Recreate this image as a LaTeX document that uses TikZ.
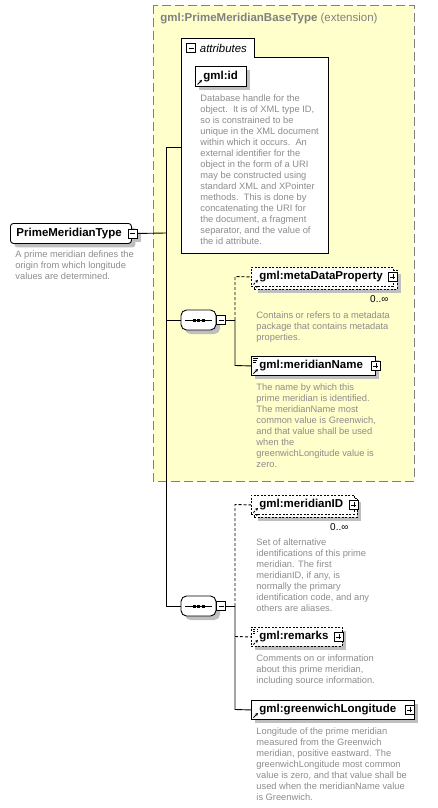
\documentclass[tikz,border=0pt]{standalone}
\usepackage{fontspec}
\setmainfont{Liberation Sans}
\usetikzlibrary{shadows,arrows.meta}
\definecolor{grpfill}{HTML}{FFFFCC}
\definecolor{grpline}{HTML}{808080}
\definecolor{desctext}{HTML}{8C8C8C}
\tikzset{shad/.style={drop shadow={shadow xshift=4pt,shadow yshift=-4pt,fill=black!25,opacity=1}},
  elem/.style={draw,fill=white,anchor=north west,inner xsep=8pt,inner ysep=0pt,minimum height=19pt,align=left,
    font=\bfseries\fontsize{11.5}{13}\selectfont,text height=8.5pt,text depth=2.5pt},
  refmark/.style={path picture={\draw[line width=0.9pt,-{Stealth[length=3pt,width=3pt]}] ([shift={(2pt,2pt)}]path picture bounding box.south west) -- ++(4.5pt,4.5pt);}},
  typedref/.style={path picture={\draw[line width=0.9pt,-{Stealth[length=3pt,width=3pt]}] ([shift={(2pt,2pt)}]path picture bounding box.south west) -- ++(4.5pt,4.5pt);
    \draw[line width=0.7pt] ([shift={(2pt,-2pt)}]path picture bounding box.north west) -- ++(5pt,0pt)
      ([shift={(2pt,-4pt)}]path picture bounding box.north west) -- ++(4pt,0pt)
      ([shift={(2pt,-6pt)}]path picture bounding box.north west) -- ++(3pt,0pt);}},
  optbox/.style={dash pattern=on 2pt off 1.5pt},
  optline/.style={dash pattern=on 3pt off 2pt},
  pmbox/.style={draw,fill=white,minimum size=9pt,inner sep=0pt,line width=0.8pt},
  minusbox/.style={pmbox,path picture={\draw ([xshift=2pt]path picture bounding box.west) -- ([xshift=-2pt]path picture bounding box.east);}},
  plusbox/.style={pmbox,path picture={\draw ([xshift=2pt]path picture bounding box.west) -- ([xshift=-2pt]path picture bounding box.east)
      ([yshift=2pt]path picture bounding box.south) -- ([yshift=-2pt]path picture bounding box.north);}},
  seqbox/.style={rectangle,rounded corners=5.5pt,draw,fill=white,minimum width=35pt,minimum height=20pt,inner sep=0pt,shad,
    path picture={\draw[sharp corners] ([xshift=4pt]path picture bounding box.west) -- ([xshift=-4pt]path picture bounding box.east);
      \fill[black,sharp corners] ([shift={(-6pt,-1.5pt)}]path picture bounding box.center) rectangle ++(3pt,3pt);
      \fill[black,sharp corners] ([shift={(-1.5pt,-1.5pt)}]path picture bounding box.center) rectangle ++(3pt,3pt);
      \fill[black,sharp corners] ([shift={(3pt,-1.5pt)}]path picture bounding box.center) rectangle ++(3pt,3pt);}},
  desc/.style={anchor=north west,inner sep=0pt,align=left,text=desctext,font=\fontsize{9.3}{11}\selectfont},
  occurs/.style={anchor=north east,inner sep=1pt,font=\fontsize{10}{11}\selectfont}}

\begin{document}
\begin{tikzpicture}[x=1pt,y=-1pt,line width=0.9pt]
    \useasboundingbox (0,0) rectangle (438,808);

    % base type group
    \draw[grpline,fill=grpfill,dash pattern=on 9pt off 4pt] (153,5) rectangle (414,481);
    \node[anchor=west,inner sep=0pt,text=grpline,font=\fontsize{11.5}{13}\selectfont] (base) at (160,19) {\textbf{gml:PrimeMeridianBaseType} (extension)};

    % attributes
    \draw[fill=white] (181,38) -- (254,38) -- (254,57) -- (328,57) -- (328,253) -- (181,253) -- cycle;
    \coordinate (attrw) at (181,147);
    \node[minusbox] (attrm) at (191,48) {};
    \node[anchor=west,inner sep=0pt,font=\itshape\fontsize{11.4}{12}\selectfont] (attrl) at (199.5,48) {attributes};
    \node[elem,refmark,shad,minimum height=20pt,text width=35pt] (id) at (195,66) {gml:id};
    \node[desc] (iddesc) at (200,94.5) {Database handle for the\\object.\ \ It is of XML type ID,\\so is constrained to be\\unique in the XML document\\within which it occurs.\ \ An\\external identifier for the\\object in the form of a URI\\may be constructed using\\standard XML and XPointer\\methods.\ \ This is done by\\concatenating the URI for\\the document, a fragment\\separator, and the value of\\the id attribute.};

    % root
    \node[elem,rounded corners=3pt,shad,minimum height=20pt,text width=109pt,inner xsep=6pt] (pmt) at (10,223) {PrimeMeridianType};
    \node[minusbox,shad] (pmtm) at ([xshift=1pt]pmt.east) {};
    \node[desc] (pmtdesc) at (15,250.5) {A prime meridian defines the\\origin from which longitude\\values are determined.};

    % first sequence
    \node[seqbox] (seqa) at (198.5,320) {};
    \node[minusbox,anchor=west] (seqam) at (seqa.east) {};
    \node[elem,optbox,refmark,shad,text width=127pt] (metab) at (254,270) {\phantom{x}};
    \node[elem,optbox,refmark,text width=126pt] (meta) at (251,267) {gml:metaDataProperty};
    \node[plusbox] (metap) at ([xshift=-1pt]meta.east) {};
    \node[occurs] (metao) at ([shift={(-8pt,-4pt)}]metab.south east) {0..∞};
    \node[desc] (metadesc) at (256,311) {Contains or refers to a metadata\\package that contains metadata\\properties.};
    \node[elem,typedref,shad,text width=108pt] (mn) at (251,356) {gml:meridianName};
    \node[plusbox] (mnp) at ([xshift=0pt]mn.east) {};
    \node[desc] (mndesc) at (256,383) {The name by which this\\prime meridian is identified.\\The meridianName most\\common value is Greenwich,\\and that value shall be used\\when the\\greenwichLongitude value is\\zero.};

    % second sequence
    \node[seqbox] (seqb) at (198.5,606) {};
    \node[minusbox,anchor=west] (seqbm) at (seqb.east) {};
    \node[elem,optbox,refmark,shad,text width=87pt] (midb) at (254,498) {\phantom{x}};
    \node[elem,optbox,refmark,text width=87pt] (mid) at (251,495) {gml:meridianID};
    \node[plusbox] (midp) at ([xshift=-1pt]mid.east) {};
    \node[occurs] (mido) at ([shift={(-8pt,-4pt)}]midb.south east) {0..∞};
    \node[desc] (middesc) at (256,538.5) {Set of alternative\\identifications of this prime\\meridian. The first\\meridianID, if any, is\\normally the primary\\identification code, and any\\others are aliases.};
    \node[elem,optbox,typedref,shad,text width=75pt] (rem) at (251,627) {gml:remarks};
    \node[plusbox] (remp) at ([xshift=-4pt]rem.east) {};
    \node[desc] (remdesc) at (256,654.5) {Comments on or information\\about this prime meridian,\\including source information.};
    \node[elem,refmark,shad,text width=147pt] (gl) at (251,700) {gml:greenwichLongitude};
    \node[plusbox] (glp) at ([xshift=-5pt]gl.east) {};
    \node[desc] (gldesc) at (256,727) {Longitude of the prime meridian\\measured from the Greenwich\\meridian, positive eastward. The\\greenwichLongitude most common\\value is zero, and that value shall be\\used when the meridianName value\\is Greenwich.};

    % connectors
    \coordinate (ta) at (166,147);
    \coordinate (tb) at (166,233);
    \coordinate (tc) at (166,320);
    \coordinate (td) at (166,606);
    \draw (pmtm.east) -- (tb);
    \draw (ta) -- (td);
    \draw (ta) -- (attrw);
    \draw (tc) -- (seqa.west);
    \draw (td) -- (seqb.west);

    \coordinate (ua) at (235,276.5);
    \coordinate (ub) at (235,320);
    \coordinate (uc) at (235,365.5);
    \draw (seqam.east) -- (ub);
    \draw[optline] (ub) -- (ua) -- (meta.west);
    \draw (ub) -- (uc) -- (mn.west);

    \coordinate (va) at (235,504.5);
    \coordinate (vb) at (235,606);
    \coordinate (vc) at (235,636.5);
    \coordinate (vd) at (235,709.5);
    \draw (seqbm.east) -- (vb);
    \draw[optline] (vb) -- (va) -- (mid.west);
    \draw (vb) -- (vd) -- (gl.west);
    \draw[optline] (vc) -- (rem.west);
\end{tikzpicture}
\end{document}
